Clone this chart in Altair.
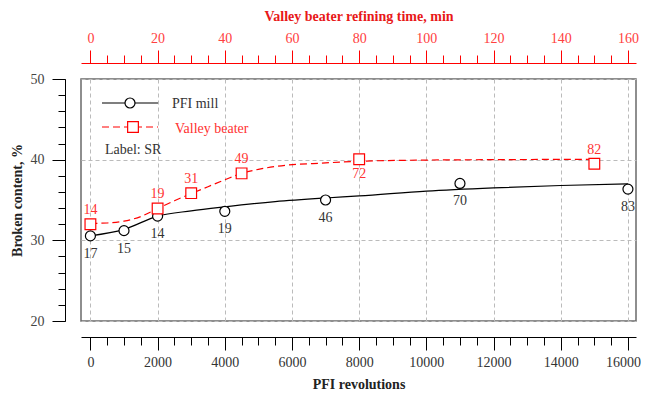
import altair as alt
import pandas as pd

# ---- data ----
pfi_rev = [0, 1000, 2000, 4000, 7000, 11000, 16000]
pfi_broken = [30.55, 31.2, 33.0, 33.6, 35.0, 37.05, 36.35]
pfi_sr = ["17", "15", "14", "19", "46", "70", "83"]

valley_min = [0, 20, 30, 45, 80, 150]
valley_broken = [32.0, 33.95, 35.85, 38.3, 40.05, 39.5]
valley_sr = ["14", "19", "31", "49", "72", "82"]
valley_side = ["above", "above", "above", "above", "below", "above"]

pfi_curve_rev = [0, 1000, 2000, 3000, 4000, 5500, 7000, 8000, 10000, 12000, 14000, 16000]
pfi_curve_broken = [30.55, 31.35, 33.0, 33.65, 34.15, 34.8, 35.25, 35.5, 36.1, 36.5, 36.8, 37.0]

valley_curve_min = [0, 5, 10, 15, 20, 25, 30, 35, 40, 45, 50, 55, 70, 80, 100, 120, 150]
valley_curve_broken = [32.1, 32.15, 32.38, 32.95, 33.95, 34.9, 35.8, 36.65, 37.5, 38.3,
                       38.8, 39.15, 39.6, 39.8, 39.95, 40.0, 40.05]

rev_major = list(range(0, 16001, 2000))
rev_minor = list(range(0, 16001, 500))
min_major = list(range(0, 161, 20))
min_minor = list(range(0, 161, 5))
y_major_ticks = [20, 30, 40, 50]
y_minor_ticks = list(range(20, 51, 2))

pfi = pd.DataFrame({"rev": pfi_rev, "broken": pfi_broken, "sr": pfi_sr})
valley = pd.DataFrame({"min": valley_min, "broken": valley_broken, "sr": valley_sr, "side": valley_side})
pfi_curve = pd.DataFrame({"rev": pfi_curve_rev, "broken": pfi_curve_broken})
valley_curve = pd.DataFrame({"min": valley_curve_min, "broken": valley_curve_broken})

FONT = "Liberation Serif"
FS = 14
RED = "#ff0000"
W, H = 555, 242

xrev = alt.Scale(domain=[-280, 16240], nice=False, zero=False)
xmin = alt.Scale(domain=[-2.8, 162.4], nice=False, zero=False)
ysc = alt.Scale(domain=[20, 50], nice=False, zero=False)

x_major = alt.Axis(orient="bottom", values=rev_major, offset=16, tickSize=13, tickWidth=1,
                   tickColor="black", domainColor="black", domainWidth=1, format="d",
                   labelFont=FONT, labelFontSize=FS, labelColor="#333", labelPadding=5,
                   labelOffset={"condition": {"test": "datum.value == 16000", "value": -5}, "value": 0},
                   labelFlush=False, labelOverlap=False, grid=True, gridColor="#bbbbbb",
                   gridDash=[4, 3], gridWidth=1, title="PFI revolutions", titleFont=FONT,
                   titleFontSize=FS, titleFontWeight="bold", titleColor="#222", titlePadding=8)
x_minor = alt.Axis(orient="bottom", values=rev_minor, offset=16, tickSize=8, tickWidth=1,
                   tickColor="black", labels=False, domain=False, grid=False, title=None)
y_major = alt.Axis(orient="left", values=y_major_ticks, offset=16, tickSize=13, tickWidth=1,
                   tickColor="black", domainColor="black", domainWidth=1,
                   labelFont=FONT, labelFontSize=FS, labelColor="#444", labelPadding=8,
                   labelFlush=False, grid=True, gridColor="#bbbbbb", gridDash=[4, 3], gridWidth=1,
                   title="Broken content, %", titleFont=FONT, titleFontSize=FS,
                   titleFontWeight="bold", titleColor="#222", titlePadding=6)
y_minor = alt.Axis(orient="left", values=y_minor_ticks, offset=16, tickSize=7, tickWidth=1,
                   tickColor="black", labels=False, domain=False, grid=False, title=None)
top_major = alt.Axis(orient="top", values=min_major, offset=16, tickSize=13, tickWidth=1,
                     tickColor=RED, domainColor=RED, domainWidth=1, format="d",
                     labelFont=FONT, labelFontSize=FS, labelColor="#ff4040", labelPadding=5,
                     labelFlush=False, labelOverlap=False, grid=False,
                     title="Valley beater refining time, min", titleFont=FONT, titleFontSize=FS,
                     titleFontWeight="bold", titleColor="#e81818", titlePadding=8)
top_minor = alt.Axis(orient="top", values=min_minor, offset=16, tickSize=8, tickWidth=1,
                     tickColor=RED, labels=False, domain=False, grid=False, title=None)

pfi_line = alt.Chart(pfi_curve).mark_line(color="black", strokeWidth=1.2, interpolate="monotone").encode(
    x=alt.X("rev:Q", scale=xrev, axis=x_major),
    y=alt.Y("broken:Q", scale=ysc, axis=y_major))
pfi_minor = alt.Chart(pfi).mark_point(opacity=0).encode(
    x=alt.X("rev:Q", scale=xrev, axis=x_minor),
    y=alt.Y("broken:Q", scale=ysc, axis=y_minor))
valley_line = alt.Chart(valley_curve).mark_line(color=RED, strokeWidth=1.2, strokeDash=[7, 4],
                                                interpolate="monotone").encode(
    x=alt.X("min:Q", scale=xmin, axis=top_major),
    y=alt.Y("broken:Q", scale=ysc, axis=None))
valley_minor = alt.Chart(valley).mark_point(opacity=0).encode(
    x=alt.X("min:Q", scale=xmin, axis=top_minor),
    y=alt.Y("broken:Q", scale=ysc, axis=None))

pfi_pts = alt.Chart(pfi).mark_point(shape="circle", size=100, filled=True, fill="white",
                                    stroke="black", strokeWidth=1.2, opacity=1).encode(
    x=alt.X("rev:Q", scale=xrev, axis=None),
    y=alt.Y("broken:Q", scale=ysc, axis=None))
valley_pts = alt.Chart(valley).mark_point(shape="square", size=115, filled=True, fill="white",
                                          stroke=RED, strokeWidth=1.2, opacity=1).encode(
    x=alt.X("min:Q", scale=xmin, axis=None),
    y=alt.Y("broken:Q", scale=ysc, axis=None))

pfi_lbl = alt.Chart(pfi).mark_text(dy=18, font=FONT, fontSize=FS, color="#333").encode(
    x=alt.X("rev:Q", scale=xrev, axis=None),
    y=alt.Y("broken:Q", scale=ysc, axis=None),
    text="sr:N")
valley_lbl_up = alt.Chart(valley).transform_filter(alt.datum.side == "above").mark_text(
    dy=-14, font=FONT, fontSize=FS, color="#ff3333").encode(
    x=alt.X("min:Q", scale=xmin, axis=None),
    y=alt.Y("broken:Q", scale=ysc, axis=None),
    text="sr:N")
valley_lbl_dn = alt.Chart(valley).transform_filter(alt.datum.side == "below").mark_text(
    dy=15, font=FONT, fontSize=FS, color="#ff3333").encode(
    x=alt.X("min:Q", scale=xmin, axis=None),
    y=alt.Y("broken:Q", scale=ysc, axis=None),
    text="sr:N")

dummy = alt.Data(values=[{}])
leg_pfi_line = alt.Chart(dummy).mark_rule(color="black", strokeWidth=1.2).encode(
    x=alt.value(21), x2=alt.value(77), y=alt.value(24))
leg_pfi_pt = alt.Chart(dummy).mark_point(shape="circle", size=100, filled=True, fill="white",
                                         stroke="black", strokeWidth=1.2, opacity=1).encode(
    x=alt.value(49), y=alt.value(24))
leg_pfi_txt = alt.Chart(dummy).mark_text(align="left", baseline="middle", font=FONT, fontSize=FS,
                                         color="#333", text="PFI mill").encode(
    x=alt.value(91), y=alt.value(24.5))
leg_val_line = alt.Chart(dummy).mark_rule(color=RED, strokeWidth=1.2, strokeDash=[7, 4]).encode(
    x=alt.value(21), x2=alt.value(77), y=alt.value(48))
leg_val_pt = alt.Chart(dummy).mark_point(shape="square", size=115, filled=True, fill="white",
                                         stroke=RED, strokeWidth=1.2, opacity=1).encode(
    x=alt.value(52), y=alt.value(48))
leg_val_txt = alt.Chart(dummy).mark_text(align="left", baseline="middle", font=FONT, fontSize=FS,
                                         color="#ff3030", text="Valley beater").encode(
    x=alt.value(94), y=alt.value(50))
leg_note = alt.Chart(dummy).mark_text(align="left", baseline="middle", font=FONT, fontSize=FS,
                                      color="#333", text="Label: SR").encode(
    x=alt.value(24), y=alt.value(71))

chart = alt.layer(
    pfi_line, pfi_minor, valley_line, valley_minor,
    pfi_pts, valley_pts, pfi_lbl, valley_lbl_up, valley_lbl_dn,
    leg_pfi_line, leg_pfi_pt, leg_pfi_txt, leg_val_line, leg_val_pt, leg_val_txt, leg_note,
).resolve_scale(x="independent", y="independent").resolve_axis(
    x="independent", y="independent"
).properties(
    width=W, height=H,
    autosize=alt.AutoSizeParams(type="none"),
    padding={"left": 73, "top": 71, "right": 5, "bottom": 71},
    background="white",
).configure_view(stroke="#6a6a6a", strokeWidth=1.5)

chart.save("out.html", embed_options={"renderer": "svg", "actions": False})
